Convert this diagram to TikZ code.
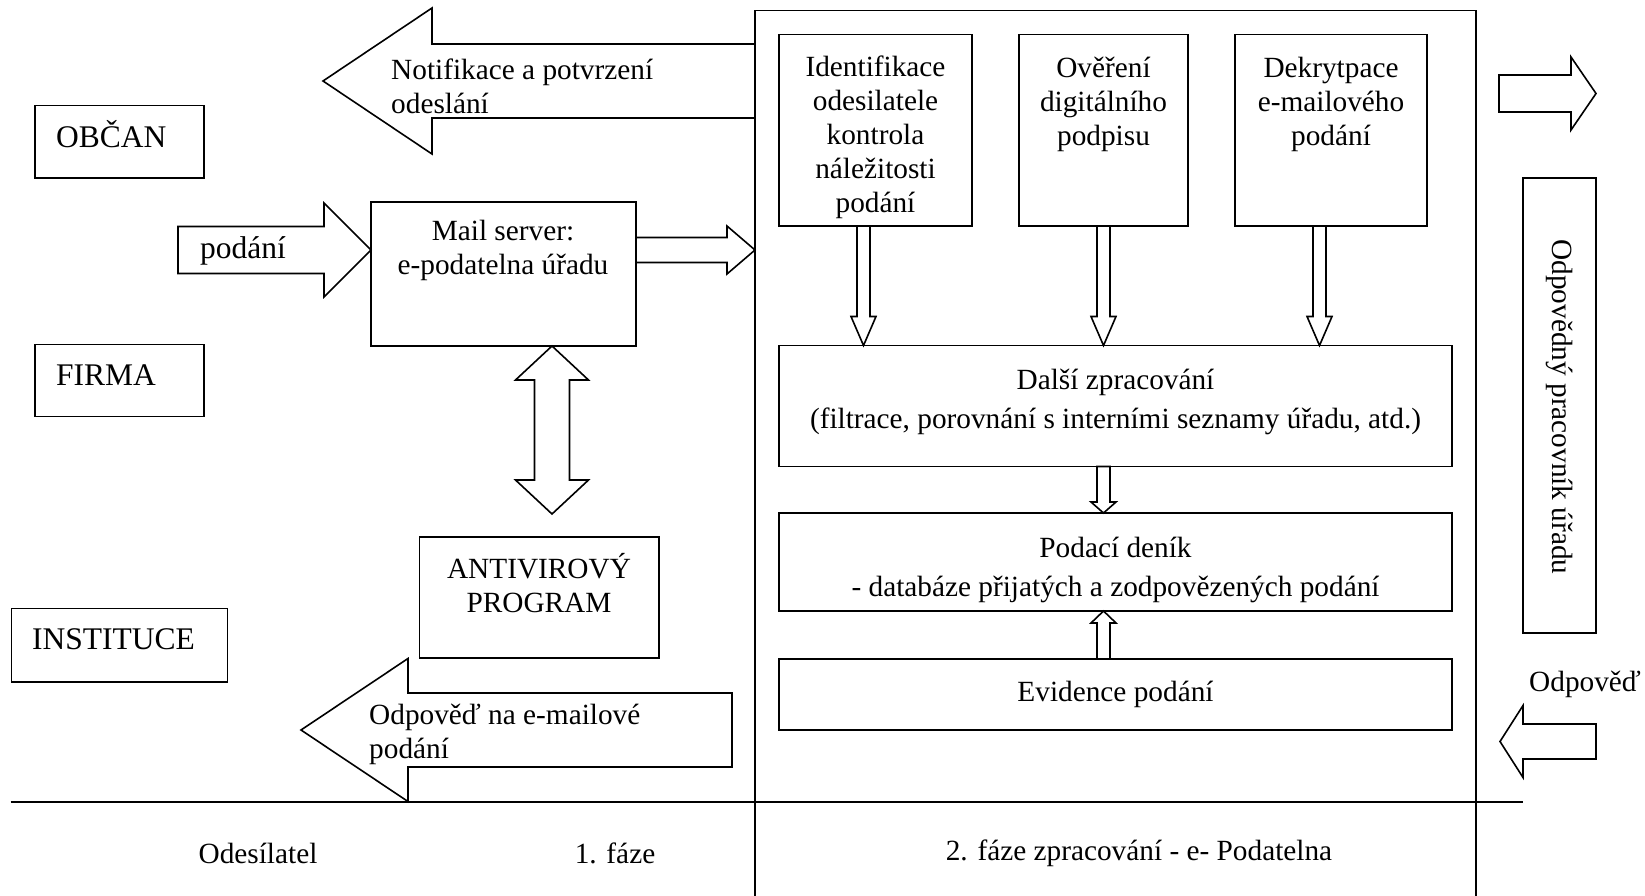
\documentclass[tikz,border=0pt]{standalone}
\usepackage{fontspec}
\setmainfont{Liberation Serif}
\usepackage{tikz}
\usetikzlibrary{calc, positioning}
\tikzstyle{box}=[rectangle, draw, line width=1.6pt, inner sep=0pt, outer sep=0pt, anchor=north west]
\tikzstyle{txt}=[inner sep=0pt, align=center, font=\fontsize{29.3}{34}\selectfont]
\tikzstyle{bigtxt}=[inner sep=0pt, align=center, font=\fontsize{31.5}{36}\selectfont]
\tikzstyle{hollow}=[draw, line width=1.6pt, line join=miter, fill=white]

% tail, tip, half shaft, half head, head length
\newcommand{\blockarrow}[5]{%
  \draw[hollow] ($(#1)!#3!90:(#2)$)
    -- ($(#2)!#5!(#1)!#3!-90:(#1)$)
    -- ($(#2)!#5!(#1)!#4!-90:(#1)$)
    -- (#2)
    -- ($(#2)!#5!(#1)!#4!90:(#1)$)
    -- ($(#2)!#5!(#1)!#3!90:(#1)$)
    -- ($(#1)!#3!-90:(#2)$) -- cycle;}
\newcommand{\dblarrow}[5]{%
  \draw[hollow] (#1)
    -- ($(#1)!#5!(#2)!#4!90:(#2)$)
    -- ($(#1)!#5!(#2)!#3!90:(#2)$)
    -- ($(#2)!#5!(#1)!#3!-90:(#1)$)
    -- ($(#2)!#5!(#1)!#4!-90:(#1)$)
    -- (#2)
    -- ($(#2)!#5!(#1)!#4!90:(#1)$)
    -- ($(#2)!#5!(#1)!#3!90:(#1)$)
    -- ($(#1)!#5!(#2)!#3!-90:(#2)$)
    -- ($(#1)!#5!(#2)!#4!-90:(#2)$) -- cycle;}

\begin{document}
\begin{tikzpicture}[x=1pt, y=-1pt]
    \useasboundingbox (0,0) rectangle (1645,896);
    \clip (0,0) rectangle (1645,896);

    % Senders.
    \node[box, minimum width=169pt, minimum height=72.5pt] (obcan) at (35,105.5) {};
    \node[box, minimum width=169pt, minimum height=72pt] (firma) at (35,344.5) {};
    \node[box, minimum width=216pt, minimum height=73.5pt] (instituce) at (11.5,608.5) {};
    \node[bigtxt, anchor=west] (obcantxt) at (56,134) {OBČAN};
    \node[bigtxt, anchor=west] (firmatxt) at (56,375.5) {FIRMA};
    \node[bigtxt, anchor=west] (institxt) at (32,639.5) {INSTITUCE};

    % 1st phase.
    \node[box, minimum width=265pt, minimum height=144pt] (mail) at (371,202) {};
    \node[txt] (mailtxt) at (503,250) {Mail server:\\e-podatelna úřadu};
    \node[box, minimum width=239.5pt, minimum height=121pt] (antivir) at (419.5,537) {};
    \node[txt] (antivirtxt) at (539,583.5) {ANTIVIROVÝ\\PROGRAM};

    % 2nd phase.
    \node[box, minimum width=721pt, minimum height=900pt, line width=1.3pt] (faze2) at (755,10.5) {};
    \node[box, minimum width=193pt, minimum height=191.5pt] (ident) at (779,34.5) {};
    \node[box, minimum width=169pt, minimum height=191.5pt] (over) at (1019,34.5) {};
    \node[box, minimum width=192pt, minimum height=191.5pt] (dekr) at (1235,34.5) {};
    \node[txt] (identtxt) at (875.5,137) {Identifikace\\odesilatele\\kontrola\\náležitosti\\podání};
    \node[txt] (overtxt) at (1103.5,104) {Ověření\\digitálního\\podpisu};
    \node[txt] (dekrtxt) at (1331,104) {Dekrytpace\\e-mailového\\podání};
    \node[box, minimum width=673pt, minimum height=121pt] (dalsi) at (779,345.5) {};
    \node[txt] (dalsitxt) at (1115.5,402) {Další zpracování\\[4.6pt](filtrace, porovnání s interními seznamy úřadu, atd.)};
    \node[box, minimum width=673pt, minimum height=98pt] (podaci) at (779,513) {};
    \node[txt] (podacitxt) at (1115.5,570) {Podací deník\\[4.6pt]- databáze přijatých a zodpovězených podání};
    \node[box, minimum width=673pt, minimum height=71pt] (evid) at (779,659) {};
    \node[txt] (evidtxt) at (1115.5,694) {Evidence podání};

    % Officer.
    \node[box, minimum width=73pt, minimum height=455pt] (odpov) at (1523,178) {};
    \node[txt, rotate=-90] (odpovtxt) at (1560,407) {Odpovědný pracovník úřadu};

    % Block arrows.
    \coordinate (podtail) at (178,250);
    \coordinate (podtip) at (mail.west |- podtail);
    \coordinate (srvout) at (mail.east |- podtail);
    \coordinate (srvin) at (faze2.west |- podtail);
    \blockarrow{podtail}{podtip}{23.5pt}{47pt}{47pt}
    \node[bigtxt, anchor=west] (podtxt) at (200,251) {podání};
    \blockarrow{srvout}{srvin}{12.5pt}{24pt}{28pt}

    \coordinate (avtip) at (552,514);
    \coordinate (srvbot) at (mail.south -| avtip);
    \dblarrow{srvbot}{avtip}{17.5pt}{36.5pt}{34pt}

    \coordinate (notiftip) at (323,81);
    \coordinate (notiftail) at (faze2.west |- notiftip);
    \blockarrow{notiftail}{notiftip}{37pt}{73pt}{109pt}
    \node[txt, align=left, anchor=west] (notiftxt) at (391,86) {Notifikace a potvrzení\\odeslání};

    \coordinate (odptail) at (732,730);
    \coordinate (odptip) at (301,730);
    \blockarrow{odptail}{odptip}{37pt}{71.5pt}{107pt}
    \node[txt, align=left, anchor=west] (odptxt) at (369,734) {Odpověď na e-mailové\\podání};

    \coordinate (identout) at ($(ident.south)+(-12,0)$);
    \coordinate (identin) at (dalsi.north -| identout);
    \coordinate (overout) at (over.south);
    \coordinate (overin) at (dalsi.north -| overout);
    \coordinate (dekrout) at ($(dekr.south)+(-11.5,0)$);
    \coordinate (dekrin) at (dalsi.north -| dekrout);
    \blockarrow{identout}{identin}{6.5pt}{12.5pt}{29pt}
    \blockarrow{overout}{overin}{6.5pt}{12.5pt}{29pt}
    \blockarrow{dekrout}{dekrin}{6.5pt}{12.5pt}{29pt}

    \coordinate (dalsiout) at (dalsi.south -| overout);
    \coordinate (podaciin) at (podaci.north -| overout);
    \coordinate (evidout) at (evid.north -| overout);
    \coordinate (podaciup) at (podaci.south -| overout);
    \blockarrow{dalsiout}{podaciin}{6.5pt}{12.5pt}{11pt}
    \blockarrow{evidout}{podaciup}{6.5pt}{12.5pt}{12pt}

    \coordinate (outtail) at (1499,93.5);
    \coordinate (outtip) at (1596,93.5);
    \blockarrow{outtail}{outtip}{18.5pt}{36.5pt}{25pt}
    \coordinate (intail) at (1596,741.5);
    \coordinate (intip) at (1500,741.5);
    \blockarrow{intail}{intip}{17.5pt}{36pt}{23pt}
    \node[txt, anchor=west] (intxt) at (1529,684) {Odpověď};

    % Phases.
    \coordinate (lineleft) at (10.5,802);
    \coordinate (lineright) at (1523,802);
    \draw[line width=2.4pt] (lineleft) -- (lineright);
    \node[txt] (odestxt) at (258,853) {Odesílatel};
    \node[txt] (faze1txt) at (615,853) {1. fáze};
    \node[txt] (faze2txt) at (1139,853) {2. fáze zpracování - e- Podatelna};
\end{tikzpicture}
\end{document}
